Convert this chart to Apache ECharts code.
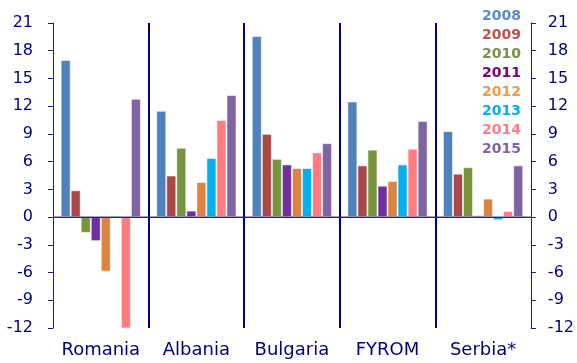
<!DOCTYPE html>
<html>
<head>
<meta charset="utf-8">
<script src="https://cdn.jsdelivr.net/npm/echarts@6/dist/echarts.min.js"></script>
<style>
  html, body { margin: 0; padding: 0; background: #fff; }
  #chart { width: 577px; height: 363px; }
</style>
</head>
<body>
<div id="chart"></div>
<script>
// Countries on the category axis
const countries = ['Romania', 'Albania', 'Bulgaria', 'FYROM', 'Serbia*'];

// One array per year, values in country order
const years = ['2008', '2009', '2010', '2011', '2012', '2013', '2014', '2015'];
const v2008 = [17.0, 11.5, 19.6, 12.5, 9.3];
const v2009 = [2.9, 4.5, 9.0, 5.6, 4.7];
const v2010 = [-1.7, 7.5, 6.3, 7.3, 5.4];
const v2011 = [-2.6, 0.7, 5.7, 3.4, 0.2];
const v2012 = [-5.9, 3.8, 5.3, 3.9, 2.0];
const v2013 = [0.15, 6.4, 5.3, 5.7, -0.35];
const v2014 = [-12.2, 10.5, 7.0, 7.4, 0.65];
const v2015 = [12.8, 13.2, 8.0, 10.4, 5.6];

// Value axis ticks
const yMin = -12, yMax = 21, yStep = 3;

const barColors = ['#4F81BD', '#A94848', '#77933C', '#7030A0', '#DD8442', '#00B0F0', '#FF7C80', '#8064A2'];
const legendColors = ['#5A8ACB', '#C0504D', '#77933C', '#800080', '#F79646', '#00B0F0', '#FF7C80', '#8064A2'];
const values = [v2008, v2009, v2010, v2011, v2012, v2013, v2014, v2015];

const navy = '#000080';
const baseColor = '#22228f';
const font = 'DejaVu Sans';

const yAxisBase = {
  type: 'value', min: yMin, max: yMax, interval: yStep,
  axisLine: { show: true, lineStyle: { color: '#1a1a8c', width: 1 } },
  axisTick: { show: true, length: 5, lineStyle: { color: '#1a1a8c' } },
  splitLine: { show: false },
  axisLabel: { color: navy, fontFamily: font, fontSize: 16 }
};

const series = years.map((y, i) => {
  const s = {
    name: y,
    type: 'bar',
    data: values[i],
    barGap: '0%',
    barCategoryGap: '16%',
    itemStyle: { color: barColors[i], borderColor: 'rgba(255,255,255,0.55)', borderWidth: 1 },
    emphasis: { disabled: true }
  };
  if (i === years.length - 1) {
    s.markLine = {
      silent: true,
      symbol: ['none', 'none'],
      label: { show: false },
      lineStyle: { color: baseColor, width: 1, type: 'solid' },
      data: [{ yAxis: 0 }]
    };
  }
  return s;
});

// zero baseline: one segment per country band, drawn above the bars
series.push({
  type: 'custom',
  silent: true,
  z: 20,
  data: countries.map((c, i) => [i, 0]),
  encode: { x: 0, y: 1 },
  renderItem: function (params, api) {
    const p = api.coord([api.value(0), api.value(1)]);
    const band = api.size([1, 0])[0];
    return {
      type: 'line',
      shape: { x1: p[0] - band / 2, y1: p[1], x2: p[0] + band / 2, y2: p[1] },
      style: { stroke: baseColor, lineWidth: 1 }
    };
  }
});

const chart = echarts.init(document.getElementById('chart'), null, { renderer: 'canvas' });
chart.setOption({
  animation: false,
  backgroundColor: '#fff',
  grid: { left: 53, right: 46, top: 23, bottom: 35, containLabel: false },
  legend: {
    orient: 'vertical',
    right: 46,
    top: 4,
    icon: 'none',
    itemWidth: 0,
    itemHeight: 14,
    itemGap: 5,
    align: 'right',
    selectedMode: false,
    textStyle: { fontFamily: font, fontSize: 14, fontWeight: 'bold' },
    data: years.map((y, i) => ({ name: y, textStyle: { color: legendColors[i] } }))
  },
  xAxis: {
    // country labels along the bottom, with separators between groups
    type: 'category',
    data: countries,
    axisLine: { show: false },
    axisTick: { show: false },
    axisLabel: { interval: 0, color: navy, fontFamily: font, fontSize: 18, margin: 13 },
    splitLine: {
      show: true,
      interval: 0,
      showMinLine: false,
      showMaxLine: false,
      lineStyle: { color: navy, width: 2 }
    }
  },
  yAxis: [
    Object.assign({}, yAxisBase, { position: 'left', axisLabel: Object.assign({}, yAxisBase.axisLabel, { margin: 20 }) }),
    Object.assign({}, yAxisBase, { position: 'right', axisLabel: Object.assign({}, yAxisBase.axisLabel, { margin: 17 }) })
  ],
  series: series
});
</script>
</body>
</html>
